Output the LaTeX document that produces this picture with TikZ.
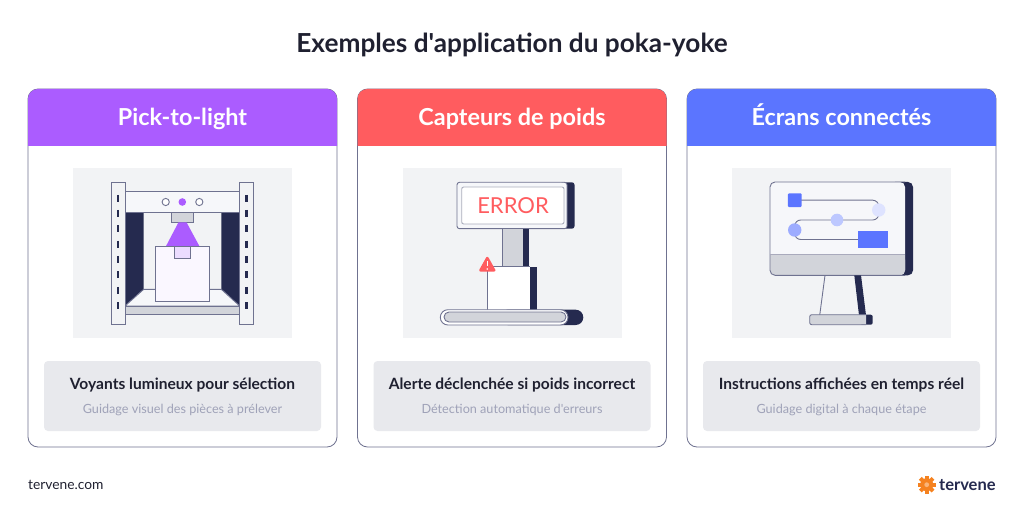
\documentclass[tikz,border=0pt]{standalone}
\usepackage{fontspec}
\setmainfont{Lato}[Ligatures=TeXOff]
\usetikzlibrary{positioning}

\definecolor{inkdark}{HTML}{1F2030}
\definecolor{navy}{HTML}{252A4F}
\definecolor{edgegrey}{HTML}{6F7290}
\definecolor{softgrey}{HTML}{D2D4DA}
\definecolor{panelgrey}{HTML}{F2F3F5}
\definecolor{infogrey}{HTML}{E8E9ED}
\definecolor{paleink}{HTML}{9FA2B8}
\definecolor{offwhite}{HTML}{F6F7FA}
\definecolor{headpurple}{HTML}{AB5CFF}
\definecolor{palepurple}{HTML}{FAF7FF}
\definecolor{lilac}{HTML}{EBDCFF}
\definecolor{headred}{HTML}{FF5C5F}
\definecolor{headblue}{HTML}{5B75FF}
\definecolor{tervorange}{HTML}{F58220}

\tikzset{
    cardbox/.style={draw=edgegrey, line width=0.8pt, fill=white, rounded corners=10pt,
        minimum width=309pt, minimum height=358pt, inner sep=0pt},
    heading/.style={anchor=base, text=white, font=\fontsize{23.4}{26}\selectfont\bfseries},
    panelbox/.style={fill=panelgrey, minimum width=219pt, minimum height=170pt, inner sep=0pt},
    infobox/.style={fill=infogrey, rounded corners=4pt, minimum width=277pt, minimum height=70pt, inner sep=0pt},
    maintext/.style={anchor=base, text=inkdark, font=\fontsize{15.55}{18}\selectfont\bfseries},
    subtext/.style={anchor=base, text=paleink, font=\fontsize{12.65}{15}\selectfont},
    outline/.style={draw=edgegrey, line width=0.9pt},
    wire/.style={draw=edgegrey, line width=0.9pt, rounded corners=6pt},
    dotnode/.style={circle, minimum size=13.4pt, inner sep=0pt}
}

\begin{document}
\begin{tikzpicture}[x=1pt, y=-1pt]
\useasboundingbox (0,0) rectangle (1024,521);

\node[anchor=base, text=inkdark, font=\fontsize{26.2}{30}\selectfont\bfseries] (title) at (512,52.5)
    {Exemples d'application du poka-yoke};

% the three cards
\foreach \n/\x/\col/\head/\main/\sub in {
    a/28/headpurple/Pick-to-light/Voyants lumineux pour sélection/Guidage visuel des pièces à prélever,
    b/357.5/headred/Capteurs de poids/Alerte déclenchée si poids incorrect/Détection automatique d'erreurs,
    c/687/headblue/Écrans connectés/Instructions affichées en temps réel/Guidage digital à chaque étape}
{
    \node[cardbox] (card\n) at (\x+154.5,268) {};
    \fill[\col] (\x,146) [rounded corners=10pt] -- (\x,89) -- (\x+309,89) [sharp corners] -- (\x+309,146) -- cycle;
    \node[heading] (head\n) at (\x+154.5,125.5) {\head};
    \node[panelbox] (panel\n) at (\x+154.5,253) {};
    \node[infobox] (info\n) at (\x+154.5,396) {};
    \node[maintext] (main\n) at (\x+154.5,389.5) {\main};
    \node[subtext] (sub\n) at (\x+154.5,413) {\sub};
}

% pick-to-light rack
\fill[navy] (125,212) -- (143.7,212) -- (143.7,289) -- (125,306) -- cycle;
\fill[navy] (221.3,212) -- (239.7,212) -- (239.7,306) -- (221.3,289) -- cycle;
\fill[offwhite, outline] (143.7,289.3) -- (221.3,289.3) -- (239.7,306) -- (125,306) -- cycle;
\fill[softgrey, outline] (125,306) rectangle (239.7,314);
\fill[offwhite, outline] (125,191.7) rectangle (239.7,212);
\fill[panelgrey, outline] (111,182) rectangle (125.3,324.7);
\fill[panelgrey, outline] (239.7,182) rectangle (253.7,324.7);
\foreach \y in {198.3,213.3,229,244,259.3,274.7,290.3,305.7} {
    \draw[navy, line width=2.8pt] (118,\y-3.5) -- (118,\y+3.5);
    \draw[navy, line width=2.8pt] (246.7,\y-3.5) -- (246.7,\y+3.5);
}
\draw[outline, fill=white] (165.7,202) circle (3.6);
\fill[headpurple] (182.3,202) circle (3.8);
\draw[outline, fill=white] (199.3,202) circle (3.6);
\fill[softgrey, outline] (171.3,212) rectangle (193.7,222.3);
\fill[headpurple] (178.5,222.3) -- (186.5,222.3) -- (199.7,246.7) -- (165.7,246.7) -- cycle;
\draw[outline, fill=palepurple] (155.3,246.7) rectangle (209.7,301.7);
\draw[outline, fill=lilac] (174.7,246.7) rectangle (190.7,258.3);

% weighing scale
\fill[navy, rounded corners=2.5pt] (560,182.3) rectangle (574.5,228.7);
\draw[outline, fill=offwhite, rounded corners=2.5pt] (457,182.3) rectangle (567,228.7);
\draw[draw=softgrey!60!edgegrey, line width=0.9pt, fill=white, rounded corners=2pt] (461.7,187) rectangle (564,224);
\node[text=headred, font=\fontsize{22}{26}\selectfont] (errortext) at (513,205.5) {ERROR};
\fill[softgrey] (502.3,228.7) rectangle (523,266.7);
\draw[outline] (502.3,228.7) -- (502.3,266.7);
\fill[navy] (523,228.7) rectangle (529.3,266.7);
\fill[navy] (530,266.7) rectangle (537,309.7);
\fill[white] (487.3,266.7) rectangle (530.3,309.7);
\draw[outline] (487.3,309.7) -- (487.3,266.7) -- (530.3,266.7);
\fill[navy, rounded corners=7.6pt] (500,309.7) rectangle (583.3,325);
\draw[outline, fill=white, rounded corners=7.6pt] (440.3,309.7) rectangle (568,325);
\draw[outline, fill=softgrey, rounded corners=5pt] (444,312) rectangle (566,322);
\fill[headred, draw=headred, line join=round, line width=2.5pt] (487.3,258) -- (494.2,270.3) -- (480.4,270.3) -- cycle;
\draw[white, line width=1.6pt] (487.3,261) -- (487.3,266.3);
\fill[white] (487.3,269) circle (0.9);

% connected screen
\fill[navy, rounded corners=5pt] (890,182) rectangle (913,275.3);
\fill[offwhite, rounded corners=5pt] (770,182) rectangle (905,275.3);
\fill[softgrey, rounded corners=5pt] (770,254.7) rectangle (905,275.3);
\fill[softgrey] (770,254.7) rectangle (905,265);
\draw[outline, rounded corners=5pt] (905,182) -- (770,182) -- (770,275.3) -- (905,275.3);
\draw[edgegrey!60, line width=0.9pt] (770,254.7) -- (905,254.7);
\coordinate (stepa) at (794.8,200.2);
\coordinate (stepb) at (878.7,210);
\coordinate (stepc) at (837,220);
\coordinate (stepd) at (794.7,230);
\coordinate (stepe) at (873,239.5);
\draw[wire] (stepa) -- (878.7,200.2) -- (stepb);
\draw[wire] (stepb) -- (878.7,220) -- (stepc);
\draw[wire] (stepc) -- (794.7,220) -- (stepd);
\draw[wire] (stepd) -- (794.7,239.5) -- (stepe);
\node[fill=headblue, rounded corners=1pt, minimum size=13.7pt, inner sep=0pt] (squarestep) at (stepa) {};
\node[fill=headblue, minimum width=29.4pt, minimum height=16.4pt, inner sep=0pt] (rectstep) at (stepe) {};
\node[dotnode, fill=headblue!20] (dotb) at (stepb) {};
\node[dotnode, fill=headblue!40, minimum size=12.6pt] (dotc) at (stepc) {};
\node[dotnode, fill=headblue!60] (dotd) at (stepd) {};
\draw[edgegrey, line width=0.9pt] (825,275.3) -- (819.7,315.3);
\fill[navy] (854.3,275.3) -- (861,275.3) -- (866,315.3) -- (859,315.3) -- cycle;
\fill[navy, rounded corners=2pt] (860,314.7) rectangle (872.7,324.7);
\draw[outline, fill=softgrey, rounded corners=2pt] (866,314.7) -- (809.7,314.7) -- (809.7,324.7) -- (866,324.7);

% footer
\node[anchor=base west, inner sep=0pt, text=inkdark, font=\fontsize{13.8}{16}\selectfont] (website) at (28,489) {tervene.com};
\foreach \a in {0,45,...,315}
    \fill[tervorange, rotate around={\a:(926.7,484.7)}] (924.7,475.7) rectangle (928.7,481);
\fill[tervorange] (926.7,484.7) circle (6.5);
\fill[tervorange!60!white] (926.7,484.7) circle (2.4);
\node[anchor=base west, inner sep=0pt, text=navy, font=\fontsize{16.5}{18}\selectfont\bfseries] (brand) at (939,490) {tervene};
\end{tikzpicture}
\end{document}
